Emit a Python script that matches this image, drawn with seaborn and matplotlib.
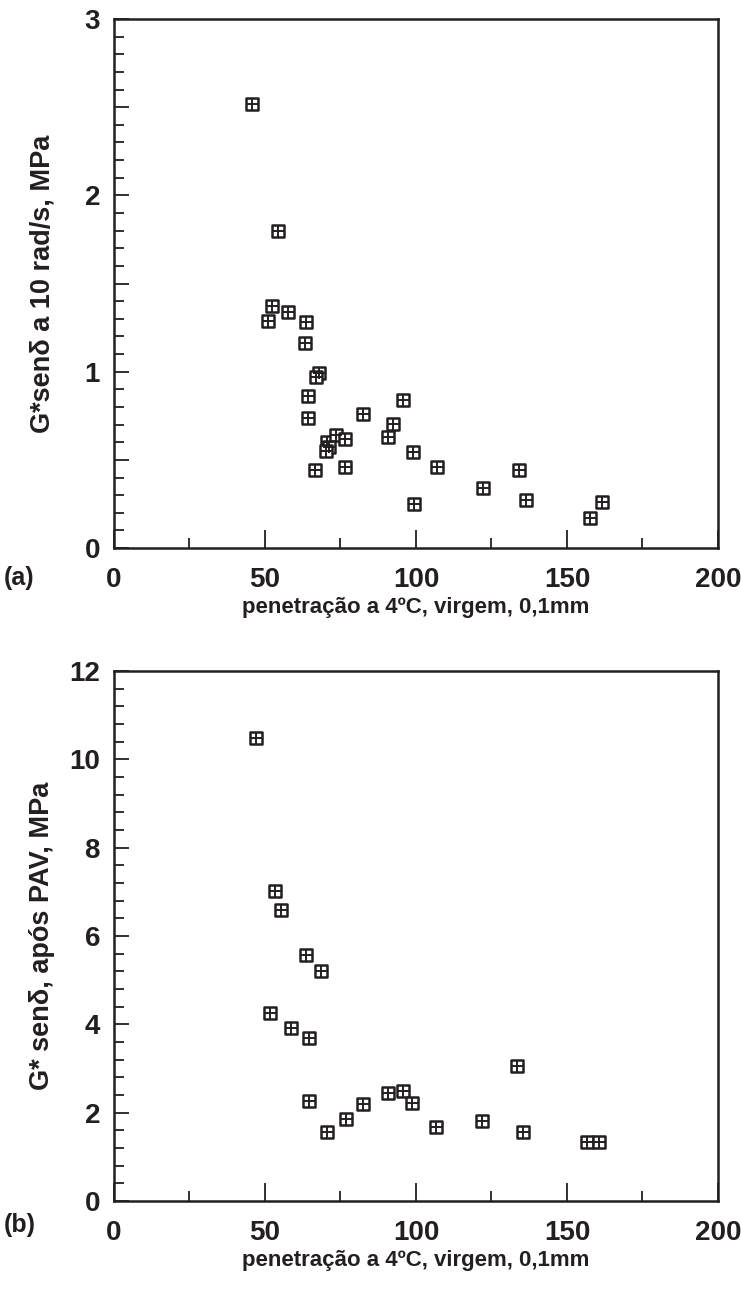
import pandas as pd
import matplotlib.pyplot as plt
import matplotlib.ticker as mticker
import seaborn as sns

# === Data ===
# (a) virgin binder: penetration vs G*sin(delta) at 10 rad/s
pen_a = [45.7, 54.4, 52.3, 51.0, 57.6, 63.6, 63.1, 67.9, 66.8, 64.2,
         64.2, 70.4, 73.6, 76.4, 71.3, 70.2, 66.5, 76.6, 82.4, 95.7,
         92.3, 90.6, 98.9, 106.9, 134.1, 122.1, 99.2, 136.3, 161.6, 157.6]
gsen_a = [2.52, 1.80, 1.37, 1.29, 1.34, 1.28, 1.16, 0.99, 0.97, 0.86,
          0.74, 0.60, 0.64, 0.62, 0.575, 0.55, 0.44, 0.46, 0.76, 0.84,
          0.705, 0.63, 0.545, 0.46, 0.44, 0.34, 0.25, 0.27, 0.26, 0.17]

# (b) after PAV
pen_b = [47.0, 53.2, 55.4, 63.5, 68.4, 51.8, 58.5, 64.7, 64.7, 82.5,
         76.7, 70.6, 90.6, 95.7, 98.8, 106.6, 121.9, 133.3, 135.4, 156.7,
         160.5]
gsen_b = [10.48, 7.02, 6.59, 5.58, 5.21, 4.25, 3.92, 3.68, 2.26, 2.20,
          1.85, 1.56, 2.44, 2.49, 2.21, 1.68, 1.80, 3.06, 1.56, 1.33,
          1.33]

xlabel = "penetração a 4ºC, virgem, 0,1mm"
ylabel_a = "G*senδ a 10 rad/s, MPa"
ylabel_b = "G* senδ, após PAV, MPa"

INK = "#231f20"

sns.set_style("ticks")
plt.rcParams["font.family"] = ["Liberation Sans Narrow", "Liberation Sans", "DejaVu Sans"]
plt.rcParams["font.weight"] = "bold"


def draw_panel(ax, x, y, ylim, ymajor, yminor, ylab_step, ylabel, tag, tag_y):
    df = pd.DataFrame({"x": x, "y": y})
    # square with a cross inside
    sns.scatterplot(data=df, x="x", y="y", marker="s", s=80,
                    facecolor="white", edgecolor=INK, linewidth=1.8, ax=ax)
    sns.scatterplot(data=df, x="x", y="y", marker="+", s=75,
                    color=INK, linewidth=1.4, ax=ax)

    ax.set_xlim(0, 200)
    ax.set_ylim(*ylim)
    ax.xaxis.set_major_locator(mticker.MultipleLocator(50))
    ax.xaxis.set_minor_locator(mticker.MultipleLocator(25))
    ax.yaxis.set_major_locator(mticker.MultipleLocator(ymajor))
    ax.yaxis.set_minor_locator(mticker.MultipleLocator(yminor))
    ax.yaxis.set_major_formatter(mticker.FuncFormatter(
        lambda v, p: f"{v:g}" if abs(v / ylab_step - round(v / ylab_step)) < 1e-6 else ""))

    ax.tick_params(which="both", direction="in", colors=INK, width=1.3,
                   labelsize=20, top=False, right=False)
    ax.tick_params(which="major", length=11)
    ax.tick_params(which="minor", length=7)
    ax.tick_params(axis="x", which="major", pad=14, length=13)
    ax.tick_params(axis="y", which="major", pad=10)
    for sp in ax.spines.values():
        sp.set_visible(True)
        sp.set_linewidth(1.8)
        sp.set_color(INK)

    ax.set_xlabel(xlabel, fontsize=16, color=INK, fontweight="bold")
    ax.set_ylabel(ylabel, fontsize=19.5, color=INK, fontweight="bold")
    ax.xaxis.set_label_coords(0.5, -0.092)
    ax.yaxis.set_label_coords(-0.097, 0.5)
    ax.text(-0.183, tag_y, tag, transform=ax.transAxes, fontsize=18,
            color=INK, ha="left", va="center", fontweight="bold")


# === Figure ===
fig = plt.figure(figsize=(7.41, 12.95), dpi=100)
ax_a = fig.add_axes([0.1538, 0.5768, 0.8151, 0.4085])
ax_b = fig.add_axes([0.1538, 0.0726, 0.8151, 0.4093])

draw_panel(ax_a, pen_a, gsen_a, (0, 3), 0.5, 0.1, 1, ylabel_a, "(a)", -0.057)
draw_panel(ax_b, pen_b, gsen_b, (0, 12), 2, 0.4, 2, ylabel_b, "(b)", -0.045)

fig.savefig("out.png", dpi=100, facecolor="white")
plt.close(fig)
